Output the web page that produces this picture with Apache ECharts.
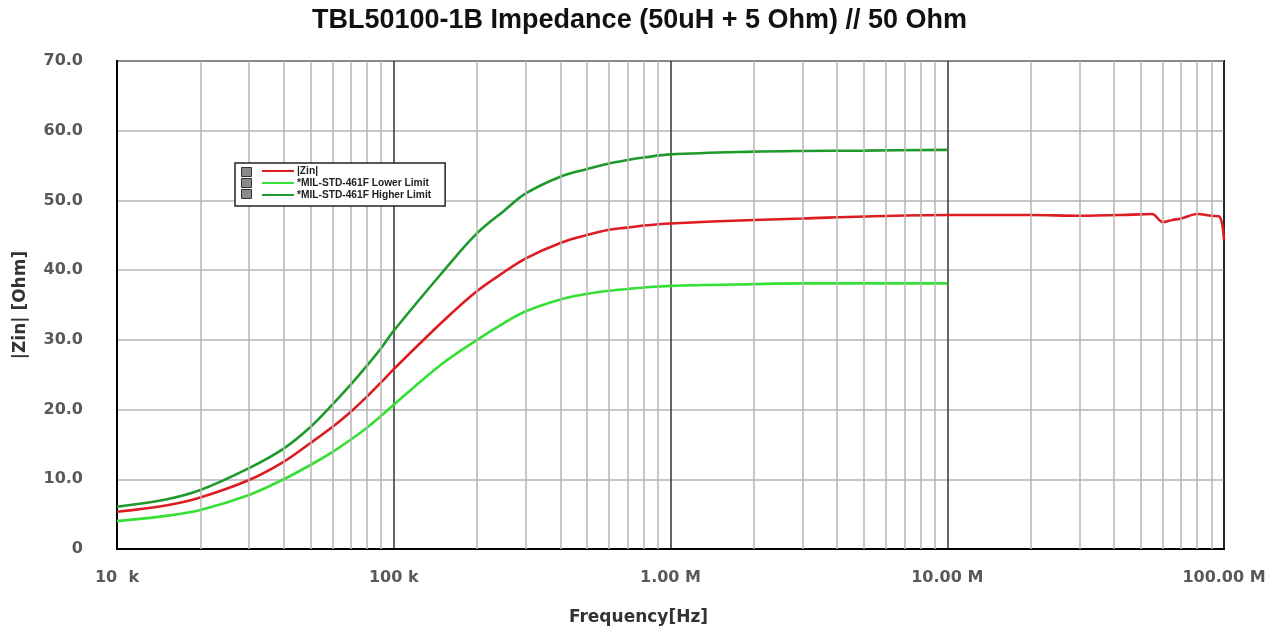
<!DOCTYPE html>
<html>
<head>
<meta charset="utf-8">
<script src="https://cdn.jsdelivr.net/npm/echarts@6/dist/echarts.min.js"></script>
<style>
html,body{margin:0;padding:0;background:#fff;}
#chart{width:1279px;height:633px;}
</style>
</head>
<body>
<div id="chart"></div>
<script>
// ---- data ----
const limitFreq = [1e4,1.5e4,2e4,3e4,4e4,5e4,6e4,7e4,8e4,9e4,1e5,1.5e5,2e5,2.5e5,3e5,4e5,5e5,6e5,7e5,8e5,1e6,2e6,3e6,5e6,1e7];
const lowerLimit = [4.0,4.75,5.6,7.75,10.0,12.05,13.9,15.7,17.4,19.1,20.7,26.6,30.0,32.4,34.1,35.8,36.6,37.05,37.3,37.5,37.75,38.0,38.1,38.1,38.1];
const higherLimit = [6.07,7.1,8.46,11.6,14.4,17.5,20.7,23.6,26.3,28.8,31.3,39.7,45.3,48.5,51.0,53.4,54.5,55.3,55.8,56.15,56.6,57.0,57.1,57.15,57.25];
const zinFreq = [1e4,1.5e4,2e4,3e4,4e4,5e4,6e4,7e4,8e4,9e4,1e5,1.5e5,2e5,2.5e5,3e5,4e5,5e5,6e5,7e5,8e5,1e6,2e6,3e6,5e6,1e7,2e7,3e7,5e7,5.5e7,6e7,6.5e7,7e7,8e7,9e7,9.6e7,1e8];
const zinValues = [5.35,6.25,7.4,9.9,12.5,15.2,17.5,19.7,21.85,23.9,25.8,32.6,37.0,39.7,41.7,43.9,45.05,45.8,46.1,46.4,46.7,47.2,47.4,47.7,47.9,47.9,47.8,48.0,48.05,46.9,47.2,47.4,48.05,47.8,47.7,44.3];
const minorGridFreq = [2e4,3e4,4e4,5e4,6e4,7e4,8e4,9e4,2e5,3e5,4e5,5e5,6e5,7e5,8e5,9e5,2e6,3e6,4e6,5e6,6e6,7e6,8e6,9e6,2e7,3e7,4e7,5e7,6e7,7e7,8e7,9e7];
const xTickLabels = {10000:'10  k',100000:'100 k',1000000:'1.00 M',10000000:'10.00 M',100000000:'100.00 M'};
const seriesNames = ['|Zin|','*MIL-STD-461F Lower Limit','*MIL-STD-461F Higher Limit'];

const pair = (xs, ys) => xs.map((x, i) => [x, ys[i]]);

const chart = echarts.init(document.getElementById('chart'));
const labelFont = {fontFamily:'DejaVu Sans, Verdana, sans-serif', fontWeight:'bold', fontSize:16, color:'#595959'};
const nameFont = {fontFamily:'DejaVu Sans, Verdana, sans-serif', fontWeight:'bold', fontSize:17, color:'#333'};

chart.setOption({
  animation:false,
  backgroundColor:'#fff',
  title:{
    text:'TBL50100-1B Impedance (50uH + 5 Ohm) // 50 Ohm',
    left:'center', top:2,
    textStyle:{fontFamily:'Liberation Sans, Arial, sans-serif', fontWeight:'bold', fontSize:27, color:'#111'}
  },
  grid:{left:117, right:55, top:61, bottom:84, show:true, borderColor:'#000', borderWidth:2, backgroundColor:'transparent'},
  legend:{
    orient:'vertical', left:235, top:163, z:20,
    padding:[3,14,6,27], itemGap:2,
    itemWidth:32, itemHeight:2, icon:'rect',
    backgroundColor:'#fff', borderColor:'#222', borderWidth:1.5, borderRadius:0,
    textStyle:{fontFamily:'Liberation Sans, Arial, sans-serif', fontWeight:'bold', fontSize:10.2, color:'#222', padding:[0,0,0,-2]},
    data:seriesNames
  },
  graphic:[
    {type:'rect', left:241, top:167, shape:{width:10,height:9}, style:{fill:'#8a8a8a', stroke:'#333', lineWidth:1}, z:100},
    {type:'rect', left:241, top:178, shape:{width:10,height:9}, style:{fill:'#8a8a8a', stroke:'#333', lineWidth:1}, z:100},
    {type:'rect', left:241, top:189, shape:{width:10,height:9}, style:{fill:'#8a8a8a', stroke:'#333', lineWidth:1}, z:100}
  ],
  xAxis:{
    type:'log', logBase:10, min:1e4, max:1e8,
    name:'Frequency[Hz]', nameLocation:'middle', nameGap:60,
    nameTextStyle:Object.assign({padding:[0,64,0,0]}, nameFont),
    axisLine:{show:true, lineStyle:{color:'#000', width:2}},
    axisTick:{show:false},
    axisLabel:Object.assign({margin:21, formatter:v => xTickLabels[Math.round(v)] || ''}, labelFont),
    splitLine:{show:true, lineStyle:{color:'#333', width:1.5}},
    minorTick:{show:false}, minorSplitLine:{show:false}
  },
  yAxis:{
    type:'value', min:0, max:70, interval:10,
    name:'|Zin| [Ohm]', nameLocation:'middle', nameGap:88,
    nameTextStyle:nameFont,
    axisLine:{show:true, lineStyle:{color:'#000', width:2}},
    axisTick:{show:false},
    axisLabel:Object.assign({margin:34, formatter:v => v === 0 ? '0' : v.toFixed(1)}, labelFont),
    splitLine:{show:true, lineStyle:{color:'#b5b5b5', width:1.5}}
  },
  series:[
    {
      name:'minorGrid', type:'line', data:[], z:1, silent:true,
      markLine:{
        silent:true, symbol:['none','none'], label:{show:false},
        lineStyle:{color:'#b5b5b5', width:1.5, type:'solid'},
        data:minorGridFreq.map(f => ({xAxis:f}))
      }
    },
    {
      name:seriesNames[0], type:'line', data:pair(zinFreq, zinValues), showSymbol:false, smooth:0.35,
      lineStyle:{color:'#dd1c22', width:2.6}, itemStyle:{color:'#dd1c22'}, z:4
    },
    {
      name:seriesNames[1], type:'line', data:pair(limitFreq, lowerLimit), showSymbol:false, smooth:0.35,
      lineStyle:{color:'#33e033', width:2.6}, itemStyle:{color:'#33e033'}, z:3
    },
    {
      name:seriesNames[2], type:'line', data:pair(limitFreq, higherLimit), showSymbol:false, smooth:0.35,
      lineStyle:{color:'#1e9a2a', width:2.6}, itemStyle:{color:'#1e9a2a'}, z:3
    }
  ]
});
</script>
</body>
</html>
